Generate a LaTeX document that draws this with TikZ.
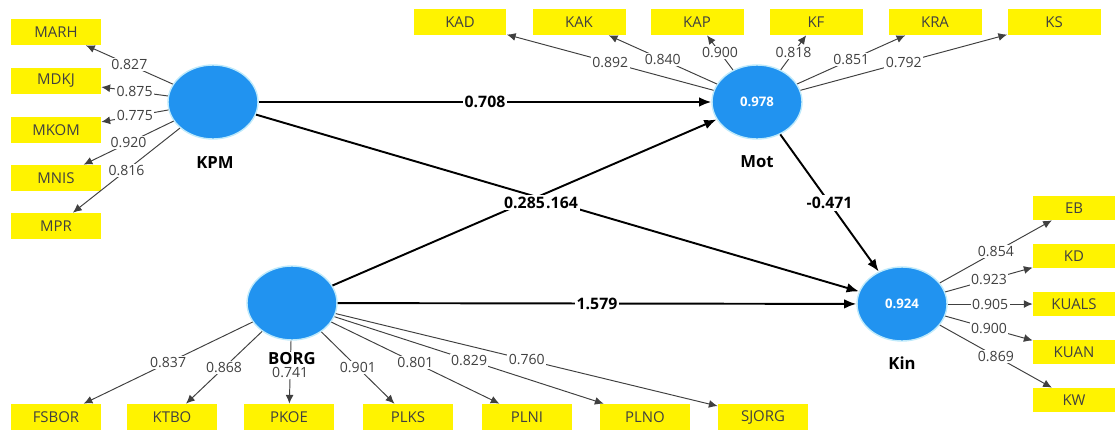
\documentclass[tikz,border=0pt]{standalone}
\usepackage{fontspec}
\setmainfont{Open Sans}
\usetikzlibrary{shapes.geometric,arrows.meta}
\definecolor{lvblue}{RGB}{33,147,240}
\definecolor{mvyellow}{RGB}{255,243,0}

\begin{document}
\begin{tikzpicture}
  [x=0.02cm,y=-0.02cm,
   lv/.style={ellipse,fill=lvblue,draw=cyan!25,line width=0.8pt,minimum width=1.8cm,minimum height=1.48cm,inner sep=0pt,text=white,font=\bfseries\fontsize{7.5}{8}\selectfont},
   mv/.style={rectangle,fill=mvyellow,minimum width=1.8cm,minimum height=0.52cm,inner sep=0pt,text=black!75,font=\fontsize{8.5}{9}\selectfont},
   lvname/.style={fill=white,inner sep=0.5pt,font=\bfseries\fontsize{9.5}{10}\selectfont},
   struct/.style={line width=1.1pt,-{Latex[length=7pt,width=5.5pt]}},
   load/.style={line width=0.55pt,draw=black!75,-{Latex[length=5pt,width=4.5pt]}},
   coef/.style={fill=white,inner sep=1pt,font=\bfseries\fontsize{9}{10}\selectfont},
   wt/.style={fill=white,inner sep=0.8pt,text=black!75,font=\fontsize{8}{9}\selectfont}]

  \useasboundingbox (0,0) rectangle (1115,430);

  % latent variables
  \node[lv] (KPM) at (213,102) {};
  \node[lv] (Mot) at (757,102) {0.978};
  \node[lv] (BORG) at (292,303) {};
  \node[lv] (Kin) at (902,304) {0.924};

  % indicators
  \foreach \n/\y in {MARH/32,MDKJ/81,MKOM/130,MNIS/178,MPR/226}
    \node[mv] (\n) at (56,\y) {\n};
  \foreach \n/\x in {KAD/460,KAK/579,KAP/697,KF/816,KRA/935,KS/1054}
    \node[mv,minimum width=1.86cm] (\n) at (\x,22) {\n};
  \foreach \n/\x in {FSBOR/56,KTBO/172,PKOE/289,PLKS/408,PLNI/527,PLNO/645,SJORG/763}
    \node[mv] (\n) at (\x,417) {\n};
  \foreach \n/\y in {EB/208,KD/256,KUALS/304,KUAN/352,KW/400}
    \node[mv,minimum width=1.64cm,minimum height=0.48cm] (\n) at (1074,\y) {\n};

  % outer loadings
  \foreach \from/\to/\w in {KPM/MARH/0.827,KPM/MDKJ/0.875,KPM/MKOM/0.775,KPM/MNIS/0.920,KPM/MPR/0.816,
      Mot/KAD/0.892,Mot/KAK/0.840,Mot/KAP/0.900,Mot/KF/0.818,Mot/KRA/0.851,Mot/KS/0.792,
      BORG/FSBOR/0.837,BORG/KTBO/0.868,BORG/PLKS/0.901,BORG/PLNI/0.801,BORG/PLNO/0.829,BORG/SJORG/0.760,
      Kin/EB/0.854,Kin/KD/0.923,Kin/KUALS/0.905,Kin/KUAN/0.900,Kin/KW/0.869}
    \draw[load] (\from) -- node[wt] {\w} (\to);
  \draw[load] (BORG) -- (PKOE);

  % path coefficients
  \draw[struct] (KPM) -- node[coef] {0.708} (Mot);
  \draw[struct] (KPM) -- node[coef] {0.164} (Kin);
  \draw[struct] (BORG) -- node[coef] {0.285} (Mot);
  \draw[struct] (BORG) -- node[coef] {1.579} (Kin);
  \draw[struct] (Mot) -- node[coef] {-0.471} (Kin);

  % names
  \node[lvname] (lKPM) at (215,163) {KPM};
  \node[lvname] (lMot) at (757,162) {Mot};
  \node[lvname] (lBORG) at (292,359) {BORG};
  \node[lvname] (lKin) at (902,363) {Kin};

  \path (BORG) -- node[wt] {0.741} (PKOE);

\end{tikzpicture}
\end{document}
